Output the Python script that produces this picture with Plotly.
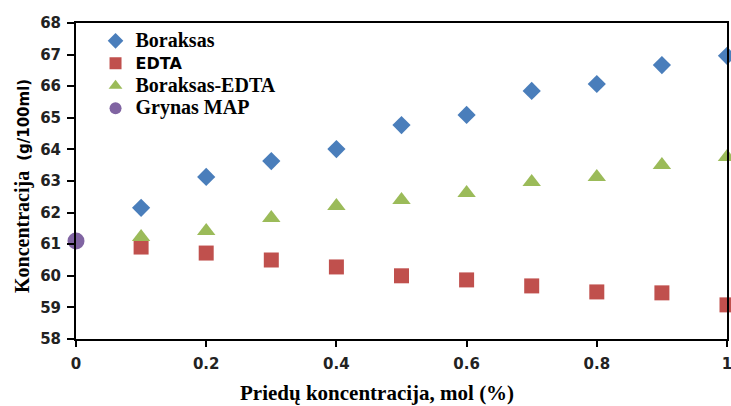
import plotly.graph_objects as go

x_vals = [0.1, 0.2, 0.3, 0.4, 0.5, 0.6, 0.7, 0.8, 0.9, 1.0]
boraksas = [62.15, 63.13, 63.63, 64.01, 64.77, 65.09, 65.85, 66.07, 66.67, 66.96]
edta = [60.91, 60.72, 60.50, 60.28, 60.00, 59.87, 59.68, 59.49, 59.46, 59.08]
boraksas_edta = [61.23, 61.42, 61.83, 62.21, 62.40, 62.62, 62.97, 63.13, 63.51, 63.76]
grynas_x = [0.0]
grynas_y = [61.1]

x_ticks = [0, 0.2, 0.4, 0.6, 0.8, 1]
x_tick_labels = ["0", "0.2", "0.4", "0.6", "0.8", "1"]
y_ticks = list(range(58, 69))

x_title = "Priedų koncentracija, mol (%)"
y_title_main = "Koncentracija"
y_title_unit = "(g/100ml)"

serif = "Liberation Serif, Times New Roman, serif"
sans = "DejaVu Sans, sans-serif"


def serif_name(t):
    return '<span style="font-family:Liberation Serif, serif;font-size:20px">' + t + '</span>'


def sans_name(t):
    return '<span style="font-family:DejaVu Sans, sans-serif;font-size:16px">' + t + '</span>'


fig = go.Figure()
fig.add_trace(go.Scatter(x=x_vals, y=boraksas, mode="markers", name=serif_name("Boraksas"),
                         marker=dict(symbol="diamond", size=14, color="#4a7ebb")))
fig.add_trace(go.Scatter(x=x_vals, y=edta, mode="markers", name=sans_name("EDTA"),
                         marker=dict(symbol="square", size=15, color="#c0504d")))
fig.add_trace(go.Scatter(x=x_vals, y=boraksas_edta, mode="markers", name=serif_name("Boraksas-EDTA"),
                         marker=dict(symbol="triangle-up", size=16, color="#9bbb59")))
fig.add_trace(go.Scatter(x=grynas_x, y=grynas_y, mode="markers", name=serif_name("Grynas MAP"),
                         marker=dict(symbol="circle", size=17, color="#8064a2")))

fig.update_traces(cliponaxis=False)

fig.update_layout(
    width=731, height=406,
    margin=dict(l=76, r=4, t=23, b=67),
    plot_bgcolor="white", paper_bgcolor="white",
    showlegend=True,
    legend=dict(x=0.03, y=0.995, xanchor="left", yanchor="top",
                font=dict(family=serif, size=15, color="black", weight="bold"),
                bgcolor="rgba(0,0,0,0)", tracegroupgap=0, itemwidth=30,
                itemsizing="constant"),
    xaxis=dict(range=[0, 1], tickvals=x_ticks, ticktext=x_tick_labels,
               showgrid=False, zeroline=False, automargin=False,
               ticklabeloverflow="allow",
               showline=True, linecolor="black", linewidth=2, mirror=True,
               ticks="outside", ticklen=6, tickwidth=2, tickcolor="black",
               ticklabelstandoff=4,
               tickfont=dict(family=sans, size=15, color="#222", weight="bold")),
    yaxis=dict(range=[58, 68], tickvals=y_ticks,
               showgrid=False, zeroline=False, automargin=False,
               ticklabeloverflow="allow",
               showline=True, linecolor="black", linewidth=2, mirror=True,
               ticks="outside", ticklen=7, tickwidth=2, tickcolor="black",
               ticklabelstandoff=3,
               tickfont=dict(family=sans, size=15, color="#222", weight="bold")),
    annotations=[
        dict(text="<b>" + x_title + "</b>", xref="paper", yref="paper",
             x=0.462, y=-0.171, xanchor="center", yanchor="middle", showarrow=False,
             font=dict(family=serif, size=21, color="black")),
        dict(text="<b>" + y_title_main + '  <span style="font-family:DejaVu Sans, sans-serif;font-size:15px">'
             + y_title_unit + "</span></b>", xref="paper", yref="paper",
             x=-0.083, y=0.484, xanchor="center", yanchor="middle", showarrow=False,
             textangle=-90, font=dict(family=serif, size=20, color="black")),
    ],
)

fig.write_html("out.html")
